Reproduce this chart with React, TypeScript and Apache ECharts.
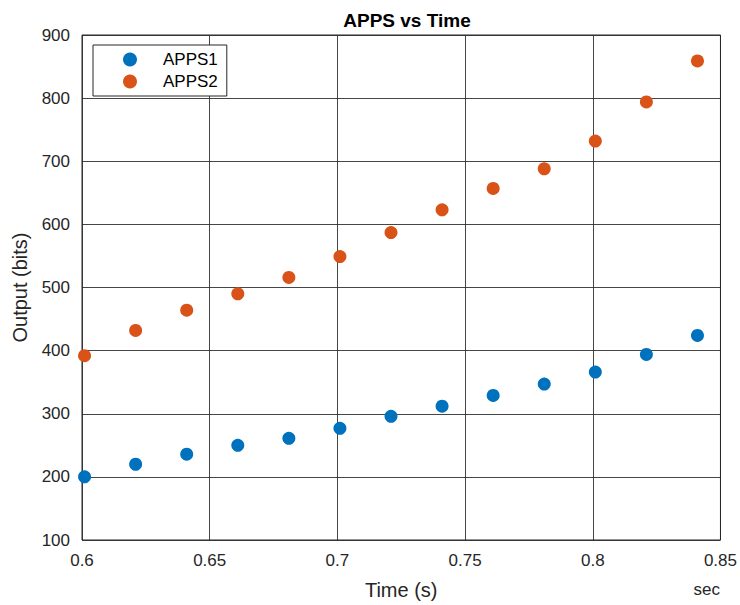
import React, { useEffect, useRef } from "react";
import * as echarts from "echarts";

const timeValues = [0.601, 0.621, 0.641, 0.661, 0.681, 0.701, 0.721, 0.741, 0.761, 0.781, 0.801, 0.821, 0.841];
const apps1Values = [200, 220, 236, 250, 261, 277, 296, 312, 329, 347, 366, 394, 424];
const apps2Values = [392, 432, 464, 490, 516, 549, 587, 623, 657, 688, 732, 794, 859];
const seriesNames = ["APPS1", "APPS2"];
const seriesColors = ["#0072BD", "#D95319"];

const FONT = "'Liberation Sans', Arial, Helvetica, sans-serif";

export default function App() {
  const ref = useRef<HTMLDivElement>(null);
  useEffect(() => {
    if (!ref.current) return;
    const chart = echarts.init(ref.current, null, { renderer: "svg" });
    const mk = (vals: number[]) => timeValues.map((t, i) => [t, vals[i]]);
    chart.setOption({
      animation: false,
      backgroundColor: "#ffffff",
      textStyle: { fontFamily: FONT },
      title: {
        text: "APPS vs Time",
        left: 402,
        textAlign: "center",
        top: 6,
        textStyle: { fontFamily: FONT, fontSize: 19, fontWeight: "bold", color: "#000" },
      },
      grid: {
        left: 82,
        right: 17,
        top: 35,
        bottom: 64,
        show: true,
        borderColor: "#262626",
        borderWidth: 1,
        backgroundColor: "#fff",
      },
      legend: {
        orient: "vertical",
        left: 93,
        top: 45,
        data: seriesNames.map((n) => ({ name: n, icon: "circle" })),
        backgroundColor: "#fff",
        borderColor: "#262626",
        borderWidth: 1,
        borderRadius: 0,
        padding: [6, 9, 6, 30],
        itemWidth: 14,
        itemHeight: 14,
        itemGap: 5,
        textStyle: { fontFamily: FONT, fontSize: 17, color: "#000", padding: [0, 0, 0, 21] },
      },
      xAxis: {
        type: "value",
        min: 0.6,
        max: 0.85,
        interval: 0.05,
        name: "Time (s)",
        nameLocation: "middle",
        nameGap: 40,
        nameTextStyle: { fontFamily: FONT, fontSize: 20, color: "#262626" },
        axisLine: { show: false },
        axisTick: { show: false },
        axisLabel: {
          fontFamily: FONT,
          fontSize: 17,
          color: "#262626",
          margin: 12,
          formatter: (v: number) => String(Math.round(v * 100) / 100),
        },
        splitLine: { show: true, lineStyle: { color: "#262626", width: 1, opacity: 0.85 } },
      },
      yAxis: {
        type: "value",
        min: 100,
        max: 900,
        interval: 100,
        name: "Output (bits)",
        nameLocation: "middle",
        nameGap: 52,
        nameTextStyle: { fontFamily: FONT, fontSize: 20, color: "#262626" },
        axisLine: { show: false },
        axisTick: { show: false },
        axisLabel: { fontFamily: FONT, fontSize: 17, color: "#262626", margin: 12 },
        splitLine: { show: true, lineStyle: { color: "#262626", width: 1, opacity: 0.85 } },
      },
      graphic: [
        {
          type: "text",
          right: 20,
          top: 581,
          style: { text: "sec", fontFamily: FONT, fontSize: 17, fill: "#262626" },
        },
      ],
      series: [
        {
          name: seriesNames[0],
          type: "scatter",
          data: mk(apps1Values),
          symbol: "circle",
          symbolSize: 13,
          itemStyle: { color: seriesColors[0], opacity: 1 },
        },
        {
          name: seriesNames[1],
          type: "scatter",
          data: mk(apps2Values),
          symbol: "circle",
          symbolSize: 13,
          itemStyle: { color: seriesColors[1], opacity: 1 },
        },
      ],
    });
    return () => chart.dispose();
  }, []);
  return (
    <div
      ref={ref}
      style={{ position: "fixed", left: 0, top: 0, width: 740, height: 605, background: "#fff" }}
    />
  );
}
